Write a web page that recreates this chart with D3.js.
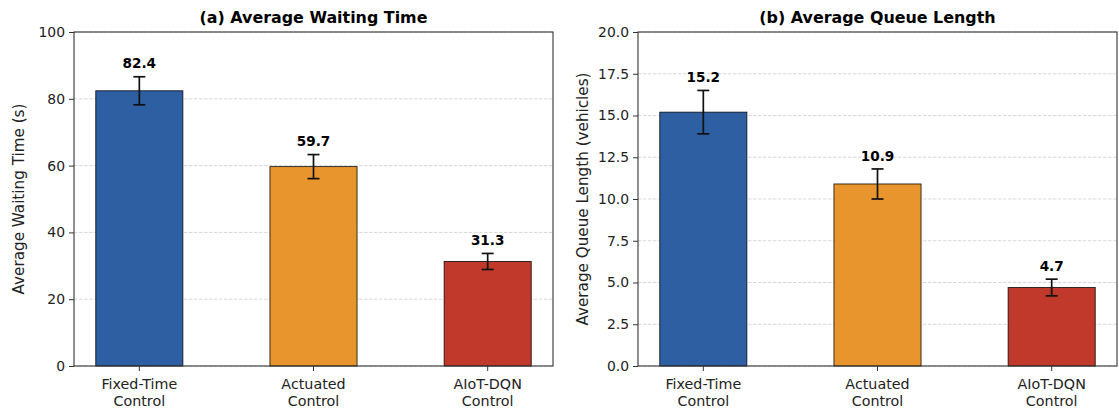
<!DOCTYPE html>
<html>
<head>
<meta charset="utf-8">
<script src="https://cdn.jsdelivr.net/npm/d3@7"></script>
<style>
  body { margin: 0; background: #fff; }
  svg { font-family: 'DejaVu Sans', sans-serif; }
</style>
</head>
<body>
<svg width="1119" height="411"></svg>
<script>
// data
const categories = ['Fixed-Time\nControl', 'Actuated\nControl', 'AIoT-DQN\nControl']
const colors = ['#2d5fa2', '#e8952e', '#c0392b']

const waitValues = [82.4, 59.7, 31.3]
const waitErrors = [4.2, 3.6, 2.4]
const waitTicks = [0, 20, 40, 60, 80, 100]

const queueValues = [15.2, 10.9, 4.7]
const queueErrors = [1.3, 0.9, 0.5]
const queueTicks = [0, 2.5, 5, 7.5, 10, 12.5, 15, 17.5, 20]

const svg = d3.select('svg')
const plotTop = 32, plotBottom = 366

const drawPanel = (opts) => {
  const { left, right, values, errors, ticks, yMax, title, yLabel, fmt } = opts
  const g = svg.append('g')

  // x positions like matplotlib: bars at 0,1,2 width 0.5, 5% margins
  const x = d3.scaleLinear().domain([-0.375, 2.375]).range([left, right])
  const y = d3.scaleLinear().domain([0, yMax]).range([plotBottom, plotTop])
  const barW = x(0.5) - x(0)

  // dashed grid
  g.selectAll('.grid')
    .data(ticks)
    .join('line')
    .attr('x1', left).attr('x2', right)
    .attr('y1', d => y(d)).attr('y2', d => y(d))
    .attr('stroke', '#b0b0b0')
    .attr('stroke-opacity', 0.55)
    .attr('stroke-width', 0.9)
    .attr('stroke-dasharray', '3.5,1.5')

  // bars
  g.selectAll('.bar')
    .data(values)
    .join('rect')
    .attr('x', (d, i) => x(i) - barW / 2)
    .attr('y', d => y(d))
    .attr('width', barW)
    .attr('height', d => y(0) - y(d))
    .attr('fill', (d, i) => colors[i])
    .attr('stroke', '#000')
    .attr('stroke-opacity', 0.85)
    .attr('stroke-width', 0.9)

  // error bars
  const eb = g.selectAll('.err')
    .data(values)
    .join('g')
  eb.append('line')
    .attr('x1', (d, i) => x(i)).attr('x2', (d, i) => x(i))
    .attr('y1', (d, i) => y(d - errors[i])).attr('y2', (d, i) => y(d + errors[i]))
  eb.append('line')
    .attr('x1', (d, i) => x(i) - 6).attr('x2', (d, i) => x(i) + 6)
    .attr('y1', (d, i) => y(d - errors[i])).attr('y2', (d, i) => y(d - errors[i]))
  eb.append('line')
    .attr('x1', (d, i) => x(i) - 6).attr('x2', (d, i) => x(i) + 6)
    .attr('y1', (d, i) => y(d + errors[i])).attr('y2', (d, i) => y(d + errors[i]))
  eb.selectAll('line').attr('stroke', '#111').attr('stroke-width', 1.7)

  // value labels
  g.selectAll('.val')
    .data(values)
    .join('text')
    .attr('x', (d, i) => x(i))
    .attr('y', (d, i) => y(d + errors[i] + yMax * 0.025))
    .attr('text-anchor', 'middle')
    .attr('font-size', 13.6)
    .attr('font-weight', 'bold')
    .text(d => d.toFixed(1))

  // spines
  g.append('rect')
    .attr('x', left).attr('y', plotTop)
    .attr('width', right - left).attr('height', plotBottom - plotTop)
    .attr('fill', 'none')
    .attr('stroke', '#333')
    .attr('stroke-width', 1.1)

  // y axis
  const yAxis = g.append('g')
    .attr('transform', `translate(${left},0)`)
    .call(d3.axisLeft(y).tickValues(ticks).tickFormat(fmt).tickSize(5).tickPadding(4))
  yAxis.select('.domain').remove()
  yAxis.selectAll('line').attr('stroke', '#333')
  yAxis.selectAll('text').attr('font-size', 13.9).attr('fill', '#222')
    .attr('font-family', 'DejaVu Sans')

  // x ticks
  const xt = g.selectAll('.xt')
    .data(categories)
    .join('g')
    .attr('transform', (d, i) => `translate(${x(i)},${plotBottom})`)
  xt.append('line').attr('y2', 5).attr('stroke', '#333')
  xt.append('text')
    .attr('text-anchor', 'middle')
    .attr('font-size', 14.3)
    .attr('fill', '#222')
    .selectAll('tspan')
    .data(d => d.split('\n'))
    .join('tspan')
    .attr('x', 0)
    .attr('y', (d, i) => 23 + i * 16.5)
    .text(d => d)

  // title
  g.append('text')
    .attr('x', (left + right) / 2)
    .attr('y', 23)
    .attr('text-anchor', 'middle')
    .attr('font-size', 15.9)
    .attr('font-weight', 'bold')
    .text(title)

  // y label
  g.append('text')
    .attr('transform', `translate(${left - 50},${(plotTop + plotBottom) / 2}) rotate(-90)`)
    .attr('text-anchor', 'middle')
    .attr('font-size', 15.2)
    .attr('fill', '#222')
    .text(yLabel)
}

drawPanel({
  left: 74, right: 553,
  values: waitValues, errors: waitErrors, ticks: waitTicks, yMax: 100,
  title: '(a) Average Waiting Time',
  yLabel: 'Average Waiting Time (s)',
  fmt: d3.format('d'),
})

drawPanel({
  left: 638, right: 1117,
  values: queueValues, errors: queueErrors, ticks: queueTicks, yMax: 20,
  title: '(b) Average Queue Length',
  yLabel: 'Average Queue Length (vehicles)',
  fmt: d3.format('.1f'),
})
</script>
</body>
</html>
